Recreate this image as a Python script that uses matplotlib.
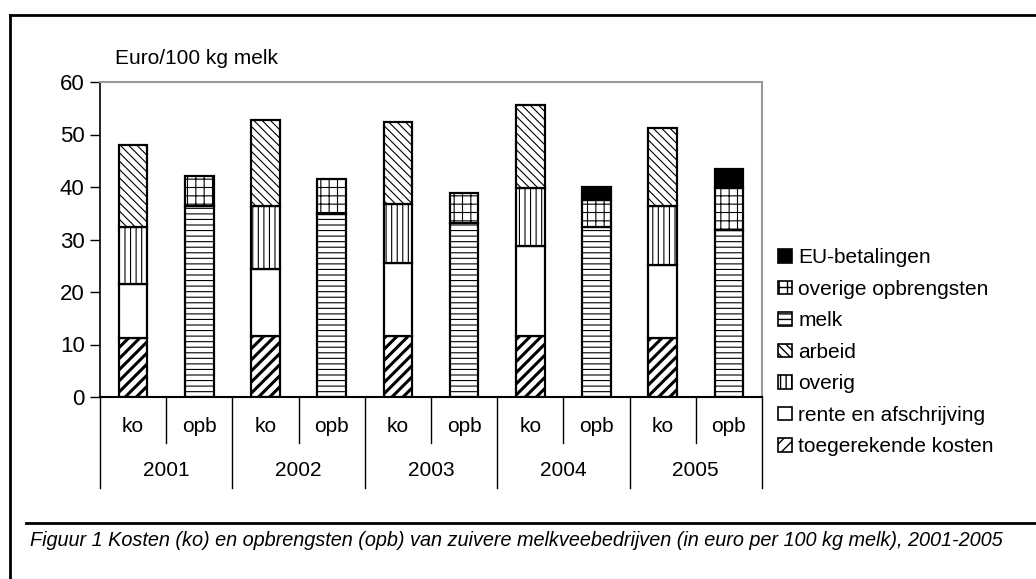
import matplotlib
matplotlib.use("Agg")
import matplotlib.pyplot as plt
from matplotlib.patches import Patch
from matplotlib.lines import Line2D
import numpy as np

plt.rcParams['font.family'] = ['Liberation Sans Narrow', 'Liberation Sans', 'DejaVu Sans']

# Data (euro per 100 kg melk)
years = ['2001', '2002', '2003', '2004', '2005']
sub_labels = ['ko', 'opb']

# kosten (ko)
toegerekende = [11.3, 11.6, 11.6, 11.6, 11.3]
rente = [10.2, 12.8, 14.0, 17.2, 13.8]
overig = [10.9, 12.0, 11.2, 11.1, 11.3]
arbeid = [15.6, 16.4, 15.6, 15.8, 14.9]

# opbrengsten (opb)
melk = [36.4, 34.9, 33.1, 32.4, 31.9]
overige_opb = [5.6, 6.7, 5.8, 5.1, 8.0]
eu_betalingen = [0.0, 0.0, 0.0, 2.5, 3.5]

W, H = 1036, 579
fig = plt.figure(figsize=(W / 100, H / 100), dpi=100)
ax = fig.add_axes([100 / W, 1 - 397 / H, 662 / W, 315 / H])

x_ko = np.arange(5) * 2
x_opb = x_ko + 1
bw = 0.43

def draw(x, vals, bottom, hatch, face, hlw):
    bars = ax.bar(x, vals, bw, bottom=bottom, color=face, edgecolor='black',
                  linewidth=1.6, hatch=hatch)
    for b in bars:
        if hasattr(b, 'set_hatch_linewidth'):
            b.set_hatch_linewidth(hlw)
    return np.array(bottom) + np.array(vals)

styles = {
    'toegerekende kosten': ('///', 'white', 2.2),
    'rente en afschrijving': ('', 'white', 1.0),
    'overig': ('|||', 'white', 0.8),
    'arbeid': ('\\\\\\\\', 'white', 0.8),
    'melk': ('---', 'white', 0.8),
    'overige opbrengsten': ('++', 'white', 0.8),
    'EU-betalingen': ('', 'black', 1.0),
}

bot = np.zeros(5)
for name, vals in [('toegerekende kosten', toegerekende), ('rente en afschrijving', rente),
                   ('overig', overig), ('arbeid', arbeid)]:
    h, f, lw = styles[name]
    bot = draw(x_ko, vals, bot, h, f, lw)

bot = np.zeros(5)
for name, vals in [('melk', melk), ('overige opbrengsten', overige_opb),
                   ('EU-betalingen', eu_betalingen)]:
    h, f, lw = styles[name]
    v = np.array(vals)
    draw(x_opb[v > 0], v[v > 0], bot[v > 0], h, f, lw)
    bot = bot + v

ax.set_xlim(-0.5, 9.5)
ax.set_ylim(0, 60)
ax.set_yticks(range(0, 61, 10))
ax.tick_params(axis='y', labelsize=16, length=7, width=1, pad=4, direction='out')
ax.set_xticks([])
for s in ['top', 'right']:
    ax.spines[s].set_color('#999999')
    ax.spines[s].set_linewidth(1.5)
ax.spines['left'].set_linewidth(1.2)
ax.spines['bottom'].set_linewidth(1.5)

# grouped category axis
trans = ax.get_xaxis_transform()
for i in range(10):
    ax.text(i, -0.095, sub_labels[i % 2], transform=trans, ha='center', va='center',
            fontsize=15)
for i in range(11):
    xb = i - 0.5
    low = -0.29 if i % 2 == 0 else -0.146
    ax.add_line(Line2D([xb, xb], [0, low], transform=trans, color='black',
                       linewidth=1, clip_on=False))
for j, yr in enumerate(years):
    ax.text(2 * j + 0.5, -0.232, yr, transform=trans, ha='center', va='center', fontsize=15)

fig.text(115 / W, 1 - 58 / H, 'Euro/100 kg melk', fontsize=15, ha='left', va='center')

# legend
order = ['EU-betalingen', 'overige opbrengsten', 'melk', 'arbeid', 'overig',
         'rente en afschrijving', 'toegerekende kosten']
handles = []
for name in order:
    h, f, lw = styles[name]
    handles.append(Patch(facecolor=f, edgecolor='black', hatch=h, linewidth=1.2, label=name))
fig.legend(handles=handles, loc='upper left', bbox_to_anchor=(770 / W, 1 - 240 / H),
           frameon=False, fontsize=15, handlelength=0.65, handleheight=0.65,
           handletextpad=0.3, labelspacing=0.6, borderaxespad=0)

# frame and caption
fig.add_artist(Line2D([10 / W, 10 / W], [0, 1 - 15 / H], transform=fig.transFigure,
                      color='black', linewidth=2))
fig.add_artist(Line2D([10 / W, 1], [1 - 15 / H, 1 - 15 / H], transform=fig.transFigure,
                      color='black', linewidth=2))
fig.add_artist(Line2D([26 / W, 1], [1 - 523 / H, 1 - 523 / H], transform=fig.transFigure,
                      color='black', linewidth=2))
fig.text(30 / W, 1 - 541 / H,
         'Figuur 1 Kosten (ko) en opbrengsten (opb) van zuivere melkveebedrijven '
         '(in euro per 100 kg melk), 2001-2005',
         fontsize=14.3, style='italic', ha='left', va='center')

fig.savefig('out.png', dpi=100)
